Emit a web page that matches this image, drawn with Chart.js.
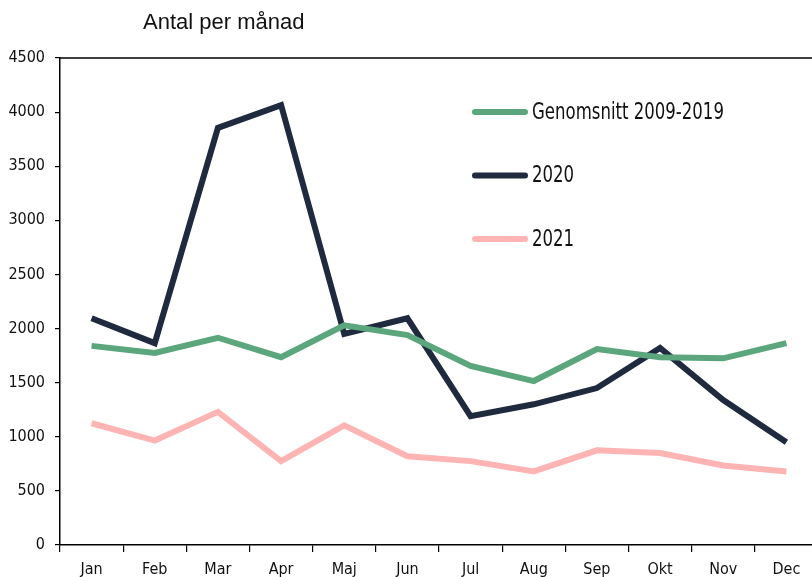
<!DOCTYPE html>
<html>
<head>
<meta charset="utf-8">
<script src="https://cdn.jsdelivr.net/npm/chart.js@4"></script>
<style>
  html, body { margin: 0; padding: 0; overflow: hidden; background: #fff; }
  #wrap { width: 820px; height: 586px; position: relative; }
</style>
</head>
<body>
<div id="wrap"><canvas id="chart"></canvas></div>
<script>
const months = ['Jan', 'Feb', 'Mar', 'Apr', 'Maj', 'Jun', 'Jul', 'Aug', 'Sep', 'Okt', 'Nov', 'Dec'];
const avg2009_2019 = [1840, 1775, 1915, 1735, 2030, 1940, 1655, 1515, 1810, 1735, 1725, 1865];
const y2020 = [2095, 1865, 3855, 4065, 1950, 2095, 1190, 1300, 1450, 1820, 1340, 950];
const y2021 = [1125, 965, 1230, 775, 1105, 820, 775, 680, 875, 850, 735, 680];
const seriesNames = ['Genomsnitt 2009-2019', '2020', '2021'];
const seriesColors = ['#5ba67d', '#1f2a3f', '#ffb4b4'];

const narrow = "'Liberation Sans Narrow', 'DejaVu Sans Condensed', 'Arial Narrow', sans-serif";

// title, top border line and the in-plot legend
const extras = {
  id: 'extras',
  afterDraw(chart) {
    const ctx = chart.ctx;
    const area = chart.chartArea;
    ctx.save();
    ctx.strokeStyle = '#000';
    ctx.lineWidth = 1.5;
    ctx.beginPath();
    ctx.moveTo(area.left, area.top);
    ctx.lineTo(area.right, area.top);
    ctx.stroke();

    ctx.fillStyle = '#111';
    ctx.font = "22px 'Liberation Sans', Arial, sans-serif";
    ctx.textBaseline = 'middle';
    ctx.textAlign = 'left';
    ctx.fillText('Antal per månad', 143, 23);

    chart.data.datasets.forEach((ds, i) => {
      const y = 112 + i * 63.5;
      ctx.strokeStyle = ds.borderColor;
      ctx.lineWidth = 6;
      ctx.lineCap = 'round';
      ctx.beginPath();
      ctx.moveTo(475, y);
      ctx.lineTo(525, y);
      ctx.stroke();
      // tall narrow lettering like the original
      ctx.save();
      ctx.translate(532, y + 1);
      ctx.scale(0.8, 1);
      ctx.font = '23px ' + narrow;
      ctx.fillStyle = '#111';
      ctx.fillText(ds.label, 0, 0);
      ctx.restore();
    });
    ctx.restore();
  }
};

new Chart(document.getElementById('chart'), {
  type: 'line',
  data: {
    labels: months,
    datasets: [
      { label: seriesNames[0], data: avg2009_2019, borderColor: seriesColors[0] },
      { label: seriesNames[1], data: y2020, borderColor: seriesColors[1] },
      { label: seriesNames[2], data: y2021, borderColor: seriesColors[2] }
    ].map(ds => Object.assign(ds, {
      borderWidth: 6,
      pointRadius: 0,
      tension: 0,
      fill: false,
      borderJoinStyle: 'miter'
    }))
  },
  options: {
    responsive: true,
    maintainAspectRatio: false,
    animation: false,
    layout: { padding: { top: 58, right: 2, left: 0, bottom: 0 } },
    plugins: {
      legend: { display: false },
      tooltip: { enabled: false }
    },
    scales: {
      x: {
        offset: true,
        grid: { display: true, drawOnChartArea: false, drawTicks: true, tickLength: 7, color: '#000', lineWidth: 1.2, offset: true },
        border: { color: '#000', width: 1.5 },
        ticks: { color: '#111', font: { family: narrow, size: 16 }, padding: 8, maxRotation: 0 },
        afterFit(scale) { scale.height = 41; }
      },
      y: {
        min: 0,
        max: 4500,
        ticks: {
          stepSize: 500,
          color: '#111',
          font: { family: narrow, size: 16 },
          padding: 10,
          callback: v => String(v)
        },
        grid: { display: true, drawOnChartArea: false, drawTicks: true, tickLength: 5, color: '#000', lineWidth: 1.2 },
        border: { color: '#000', width: 1.5 },
        afterFit(scale) { scale.width = 60; }
      }
    }
  },
  plugins: [extras]
});
</script>
</body>
</html>
